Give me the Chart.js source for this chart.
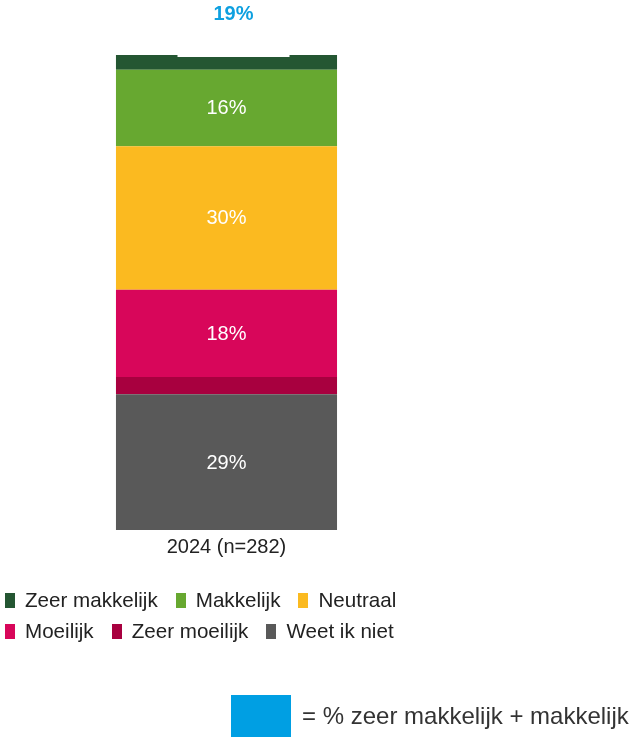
<!DOCTYPE html>
<html><head><meta charset="utf-8">
<script src="https://cdn.jsdelivr.net/npm/chart.js@4/dist/chart.umd.min.js"></script>
<style>
html,body{margin:0;padding:0;background:#fff;}
#wrap{position:relative;width:633px;height:738px;overflow:hidden;font-family:"Liberation Sans",Arial,sans-serif;}
canvas{position:absolute;left:0;top:0;}
.lrow{position:absolute;left:5px;display:flex;align-items:center;height:24px;white-space:nowrap;}
.litem{display:flex;align-items:center;margin-right:18px;font-size:20.6px;color:#222;}
.lbox{width:10px;height:15px;margin-right:10px;}
#sumleg{position:absolute;left:231px;top:695px;display:flex;align-items:center;white-space:nowrap;}
#sumbox{width:60px;height:42px;background:#009FE3;margin-right:11px;}
#sumtxt{font-size:24px;color:#333;}
</style></head><body>
<div id="wrap"><canvas id="c" width="633" height="738"></canvas>
<div id="legend"></div>
<div id="sumleg"><div id="sumbox"></div><div id="sumtxt"></div></div>
</div>
<script>
const categories = ['2024 (n=282)'];
const seriesNames = ['Zeer makkelijk','Makkelijk','Neutraal','Moeilijk','Zeer moeilijk','Weet ik niet'];
const zeerMakkelijk = [3.1];
const makkelijk = [16.1];
const neutraal = [30.2];
const moeilijk = [18.4];
const zeerMoeilijk = [3.6];
const weetIkNiet = [28.6];
const seriesColors = ['#245632','#67A830','#FBBA20','#D8065A','#A8003F','#595959'];
const sumLabel = '= % zeer makkelijk + makkelijk';

const seriesValues = [zeerMakkelijk, makkelijk, neutraal, moeilijk, zeerMoeilijk, weetIkNiet];
const sumValues = categories.map((c,i)=>zeerMakkelijk[i]+makkelijk[i]);

// datasets bottom-up (reverse of legend order)
const datasets = seriesNames.map((n,i)=>({
  label:n, data:seriesValues[i], backgroundColor:seriesColors[i], borderWidth:0,
  categoryPercentage:1, barPercentage:0.488
})).reverse();

const labelPlugin = {
  id:'labels',
  afterDatasetsDraw(chart){
    const ctx = chart.ctx;
    ctx.save();
    ctx.textAlign='center'; ctx.textBaseline='middle';
    ctx.font='20px "Liberation Sans", Arial, sans-serif';
    ctx.fillStyle='#ffffff';
    chart.data.datasets.forEach((ds,di)=>{
      const meta = chart.getDatasetMeta(di);
      meta.data.forEach((el,j)=>{
        const v = ds.data[j];
        if (v >= 5) ctx.fillText(Math.round(v)+'%', el.x, (el.y+el.base)/2 + 1);
      });
    });
    // sum label on top
    const topMeta = chart.getDatasetMeta(chart.data.datasets.length-1);
    topMeta.data.forEach((el,j)=>{
      const cx = el.x + 7;
      ctx.fillStyle='#ffffff';
      ctx.fillRect(cx-56, 0, 112, el.y + 2);
      ctx.fillStyle='#0EA0E0';
      ctx.font='bold 20px "Liberation Sans", Arial, sans-serif';
      ctx.fillText(Math.round(sumValues[j])+'%', cx, 14);
    });
    ctx.restore();
  }
};

new Chart(document.getElementById('c'), {
  type:'bar',
  data:{labels:categories, datasets},
  options:{
    responsive:false, animation:false,
    layout:{padding:{top:55,left:0,right:180,bottom:174}},
    plugins:{legend:{display:false}, tooltip:{enabled:false}},
    scales:{
      x:{stacked:true, grid:{display:false, drawTicks:false}, border:{display:false},
         ticks:{padding:5, color:'#222', font:{family:'"Liberation Sans", Arial, sans-serif', size:20}}},
      y:{stacked:true, display:false, min:0, max:100}
    }
  },
  plugins:[labelPlugin]
});

// HTML legend, two rows of three
const leg = document.getElementById('legend');
[[0,1,2],[3,4,5]].forEach((row,ri)=>{
  const r = document.createElement('div');
  r.className='lrow'; r.style.top = (ri===0?588:619)+'px';
  row.forEach(i=>{
    const it=document.createElement('div'); it.className='litem';
    const b=document.createElement('div'); b.className='lbox'; b.style.background=seriesColors[i];
    const t=document.createElement('span'); t.textContent=seriesNames[i];
    it.appendChild(b); it.appendChild(t); r.appendChild(it);
  });
  leg.appendChild(r);
});
document.getElementById('sumtxt').textContent = sumLabel;
</script>
</body></html>
